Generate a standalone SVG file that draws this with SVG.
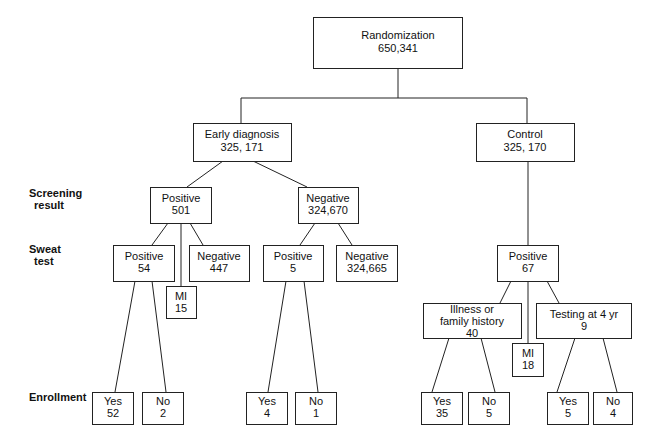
<svg xmlns="http://www.w3.org/2000/svg" width="660" height="440" viewBox="0 0 660 440">
<style>
rect{fill:#fff;stroke:#222;stroke-width:1}
line{stroke:#222;stroke-width:1}
text{font-family:"Liberation Sans",Arial,sans-serif;font-size:11px;fill:#111;text-anchor:middle}
.lbl{font-weight:bold;text-anchor:start}
</style>
<rect x="0" y="0" width="660" height="440" style="fill:#fff;stroke:none"/>
<g id="connectors">
<line x1="398" y1="68" x2="398" y2="98"/>
<line x1="241" y1="98" x2="527" y2="98"/>
<line x1="241" y1="98" x2="241" y2="123"/>
<line x1="527" y1="98" x2="527" y2="123"/>
<line x1="223" y1="161" x2="187" y2="187"/>
<line x1="253" y1="161" x2="307" y2="187"/>
<line x1="168" y1="223" x2="152" y2="245"/>
<line x1="190" y1="223" x2="203" y2="245"/>
<line x1="181" y1="223" x2="181" y2="286"/>
<line x1="315" y1="223" x2="300" y2="245"/>
<line x1="338" y1="223" x2="352" y2="245"/>
<line x1="135" y1="281" x2="115" y2="392"/>
<line x1="152" y1="281" x2="166" y2="392"/>
<line x1="286" y1="281" x2="268" y2="392"/>
<line x1="304" y1="281" x2="318" y2="392"/>
<line x1="528" y1="161" x2="528" y2="245"/>
<line x1="511" y1="281" x2="500" y2="303"/>
<line x1="547" y1="281" x2="559" y2="303"/>
<line x1="528" y1="281" x2="528" y2="343"/>
<line x1="449" y1="338" x2="432" y2="392"/>
<line x1="481" y1="338" x2="495" y2="392"/>
<line x1="575" y1="338" x2="557" y2="392"/>
<line x1="603" y1="338" x2="617" y2="392"/>
</g>
<g id="labels">
<text class="lbl" x="29" y="197">Screening</text>
<text class="lbl" x="34" y="209">result</text>
<text class="lbl" x="29" y="253">Sweat</text>
<text class="lbl" x="34" y="265">test</text>
<text class="lbl" x="29" y="401">Enrollment</text>
</g>
<g id="randomization"><rect x="313.5" y="17.5" width="149" height="51"/><text x="398" y="39">Randomization</text><text x="398" y="52">650,341</text></g>
<g id="early"><rect x="193.5" y="123.5" width="98" height="38"/><text x="242" y="138">Early diagnosis</text><text x="242" y="151">325, 171</text></g>
<g id="control"><rect x="476.5" y="123.5" width="98" height="38"/><text x="525" y="138">Control</text><text x="525" y="151">325, 170</text></g>
<g id="scr-pos"><rect x="150.5" y="187.5" width="61" height="36"/><text x="181" y="202">Positive</text><text x="181" y="214">501</text></g>
<g id="scr-neg"><rect x="298.5" y="187.5" width="60" height="36"/><text x="328" y="202">Negative</text><text x="328" y="214">324,670</text></g>
<g id="sw-pos54"><rect x="113.5" y="245.5" width="61" height="36"/><text x="144" y="260">Positive</text><text x="144" y="272">54</text></g>
<g id="sw-neg447"><rect x="189.5" y="245.5" width="60" height="36"/><text x="219" y="260">Negative</text><text x="219" y="272">447</text></g>
<g id="sw-pos5"><rect x="263.5" y="245.5" width="60" height="36"/><text x="293" y="260">Positive</text><text x="293" y="272">5</text></g>
<g id="sw-neg324665"><rect x="336.5" y="245.5" width="61" height="36"/><text x="367" y="260">Negative</text><text x="367" y="272">324,665</text></g>
<g id="mi15"><rect x="166.5" y="286.5" width="30" height="32"/><text x="181" y="300">MI</text><text x="181" y="312">15</text></g>
<g id="ctrl-pos67"><rect x="497.5" y="245.5" width="61" height="36"/><text x="528" y="260">Positive</text><text x="528" y="272">67</text></g>
<g id="illness"><rect x="423.5" y="303.5" width="98" height="35"/><text x="472" y="313">Illness or</text><text x="472" y="325">family history</text><text x="472" y="337">40</text></g>
<g id="mi18"><rect x="512.5" y="343.5" width="31" height="33"/><text x="528" y="357">MI</text><text x="528" y="369">18</text></g>
<g id="testing"><rect x="536.5" y="303.5" width="95" height="35"/><text x="584" y="318">Testing at 4 yr</text><text x="584" y="330">9</text></g>
<g id="yes52"><rect x="92.5" y="392.5" width="41" height="32"/><text x="113" y="405">Yes</text><text x="113" y="417">52</text></g>
<g id="no2"><rect x="142.5" y="392.5" width="41" height="32"/><text x="163" y="405">No</text><text x="163" y="417">2</text></g>
<g id="yes4"><rect x="246.5" y="392.5" width="41" height="32"/><text x="267" y="405">Yes</text><text x="267" y="417">4</text></g>
<g id="no1"><rect x="295.5" y="392.5" width="41" height="32"/><text x="316" y="405">No</text><text x="316" y="417">1</text></g>
<g id="yes35"><rect x="421.5" y="392.5" width="41" height="32"/><text x="442" y="405">Yes</text><text x="442" y="417">35</text></g>
<g id="no5"><rect x="468.5" y="392.5" width="41" height="32"/><text x="489" y="405">No</text><text x="489" y="417">5</text></g>
<g id="yes5"><rect x="547.5" y="392.5" width="41" height="32"/><text x="568" y="405">Yes</text><text x="568" y="417">5</text></g>
<g id="no4"><rect x="593.5" y="392.5" width="39" height="32"/><text x="613" y="405">No</text><text x="613" y="417">4</text></g>
</svg>
